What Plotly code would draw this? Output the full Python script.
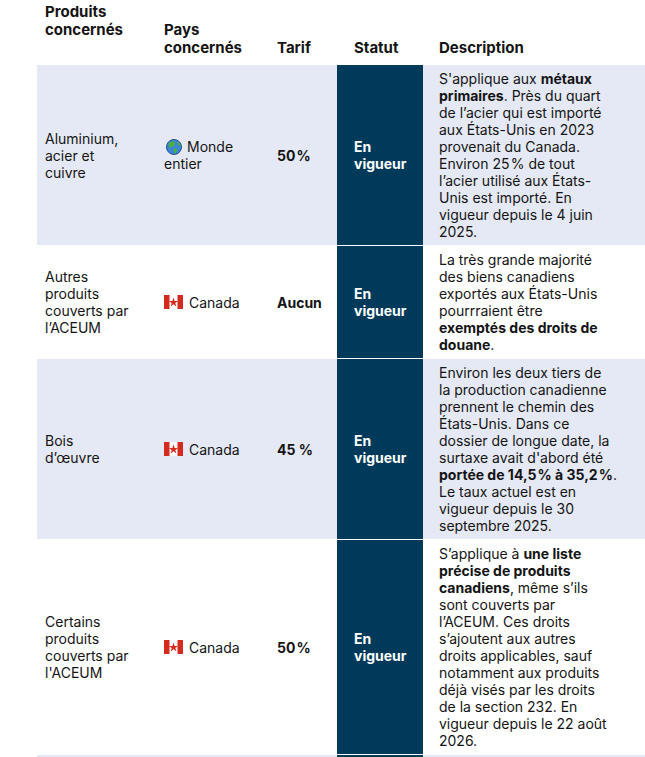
import plotly.graph_objects as go

# Tableau des tarifs douaniers américains visant le Canada

W, H = 645, 757

entetes = [["Produits", "concernés"], ["Pays", "concernés"], ["Tarif"], ["Statut"], ["Description"]]
produits = [["Aluminium,", "acier et", "cuivre"],
            ["Autres", "produits", "couverts par", "l’ACEUM"],
            ["Bois", "d’œuvre"],
            ["Certains", "produits", "couverts par", "l'ACEUM"]]
pays = [["Monde", "entier"], ["Canada"], ["Canada"], ["Canada"]]
drapeaux = ["globe", "ca", "ca", "ca"]
tarifs = ["50\u200a%", "Aucun", "45 %", "50\u200a%"]
statuts = [["En", "vigueur"]] * 4
descriptions = [
    ["S'applique aux <b>métaux</b>",
     "<b>primaires</b>. Près du quart",
     "de l’acier qui est importé",
     "aux États-Unis en 2023",
     "provenait du Canada.",
     "Environ 25\u200a% de tout",
     "l’acier utilisé aux États-",
     "Unis est importé. En",
     "vigueur depuis le 4 juin",
     "2025."],
    ["La très grande majorité",
     "des biens canadiens",
     "exportés aux États-Unis",
     "pourrraient être",
     "<b>exemptés des droits de</b>",
     "<b>douane</b>."],
    ["Environ les deux tiers de",
     "la production canadienne",
     "prennent le chemin des",
     "États-Unis. Dans ce",
     "dossier de longue date, la",
     "surtaxe avait d'abord été",
     "<b>portée de 14,5\u200a% à 35,2\u200a%</b>.",
     "Le taux actuel est en",
     "vigueur depuis le 30",
     "septembre 2025."],
    ["S’applique à <b>une liste</b>",
     "<b>précise de produits</b>",
     "<b>canadiens</b>, même s’ils",
     "sont couverts par",
     "l’ACEUM. Ces droits",
     "s’ajoutent aux autres",
     "droits applicables, sauf",
     "notamment aux produits",
     "déjà visés par les droits",
     "de la section 232. En",
     "vigueur depuis le 22 août",
     "2026."],
]

# mise en page (en pixels de la page)
col_x = [43, 162, 275, 352, 437]
entete_bas = [29, 47, 47, 47, 47]
statut_x0, statut_x1 = 337, 423
table_x0 = 37
top = 65
ligne = 17
pad = 10
FOND = "#e5e9f5"
MARINE = "#003a5b"
NOIR = "#141414"
POLICE = "Inter"
TAILLE = 14

fig = go.Figure()
shapes = []
annotations = []


def lignes(x, cy, textes, couleur=NOIR, taille=TAILLE, gras=False, pas=ligne):
    n = len(textes)
    for k, t in enumerate(textes):
        y = cy + (k - (n - 1) / 2) * pas
        annotations.append(dict(x=x, y=y, text="<b>" + t + "</b>" if gras else t, xanchor="left",
                                yanchor="middle", showarrow=False,
                                font=dict(family=POLICE, size=taille, color=couleur)))


for i, txt in enumerate(entetes):
    n = len(txt)
    lignes(col_x[i], entete_bas[i] - (n - 1) * 9, txt, taille=15, gras=True, pas=18)

y0 = top
for i in range(len(produits)):
    h = len(descriptions[i]) * ligne + pad
    y1 = y0 + h
    cy = (y0 + y1) / 2
    if i % 2 == 0:
        shapes.append(dict(type="rect", x0=table_x0, x1=W, y0=y0, y1=y1, fillcolor=FOND, line_width=0, layer="below"))
    shapes.append(dict(type="rect", x0=statut_x0, x1=statut_x1, y0=y0, y1=y1, fillcolor=MARINE, line_width=0, layer="below"))

    lignes(col_x[0], cy, produits[i])
    fx = 164
    if drapeaux[i] == "globe":
        lignes(col_x[1] + 23, cy - 8.5, pays[i][:1])
        lignes(col_x[1], cy + 8.5, pays[i][1:])
        gx, gy = fx + 10, cy - 8
        shapes.append(dict(type="circle", x0=gx - 7.5, x1=gx + 7.5, y0=gy - 7.5, y1=gy + 7.5, layer="below",
                           fillcolor="#3b86d8", line=dict(color="#1f4e86", width=1)))
        shapes.append(dict(type="path", path=f"M {gx-5},{gy-4} Q {gx-2},{gy-7} {gx+1},{gy-5} L {gx},{gy-1} "
                                             f"Q {gx-3},{gy} {gx-5},{gy+1} Z", fillcolor="#4caf3a", line_width=0, layer="below"))
        shapes.append(dict(type="path", path=f"M {gx},{gy+1} Q {gx+3},{gy+1} {gx+3},{gy+4} L {gx+1},{gy+7} "
                                             f"Q {gx-1},{gy+4} {gx},{gy+1} Z", fillcolor="#4caf3a", line_width=0, layer="below"))
        shapes.append(dict(type="path", path=f"M {gx+3},{gy-6} Q {gx+6},{gy-4} {gx+7},{gy} L {gx+4},{gy-2} Z",
                           fillcolor="#4caf3a", line_width=0, layer="below"))
    else:
        lignes(col_x[1] + 25, cy, pays[i])
        shapes.append(dict(type="rect", x0=fx, x1=fx + 19, y0=cy - 7, y1=cy + 7, fillcolor="#d52b1e", line_width=0, layer="below"))
        shapes.append(dict(type="rect", x0=fx + 5.5, x1=fx + 13.5, y0=cy - 7, y1=cy + 7, fillcolor="#ffffff", line_width=0, layer="below"))
        fig.add_trace(go.Scatter(x=[fx + 9.5], y=[cy + 0.5], mode="markers", hoverinfo="skip", showlegend=False,
                                 marker=dict(symbol="star", size=7, color="#d52b1e", line_width=0)))
    lignes(col_x[2], cy, [tarifs[i]], gras=True)
    lignes(col_x[3], cy, statuts[i], couleur="white", gras=True)
    lignes(col_x[4], cy, descriptions[i])
    y0 = y1 + 1

# début de la rangée suivante (coupée)
shapes.append(dict(type="rect", x0=table_x0, x1=W, y0=y0, y1=H, fillcolor=FOND, line_width=0, layer="below"))
shapes.append(dict(type="rect", x0=statut_x0, x1=statut_x1, y0=y0, y1=H, fillcolor=MARINE, line_width=0, layer="below"))

fig.update_layout(
    width=W, height=H,
    margin=dict(l=0, r=0, t=0, b=0),
    paper_bgcolor="white", plot_bgcolor="white",
    xaxis=dict(range=[0, W], visible=False, fixedrange=True),
    yaxis=dict(range=[H, 0], visible=False, fixedrange=True),
    shapes=shapes, annotations=annotations,
    showlegend=False,
)

# pas de marge autour du graphique dans la page
fig.write_html("out.html", config={"displayModeBar": False},
               post_script="document.body.style.margin = '0';")
